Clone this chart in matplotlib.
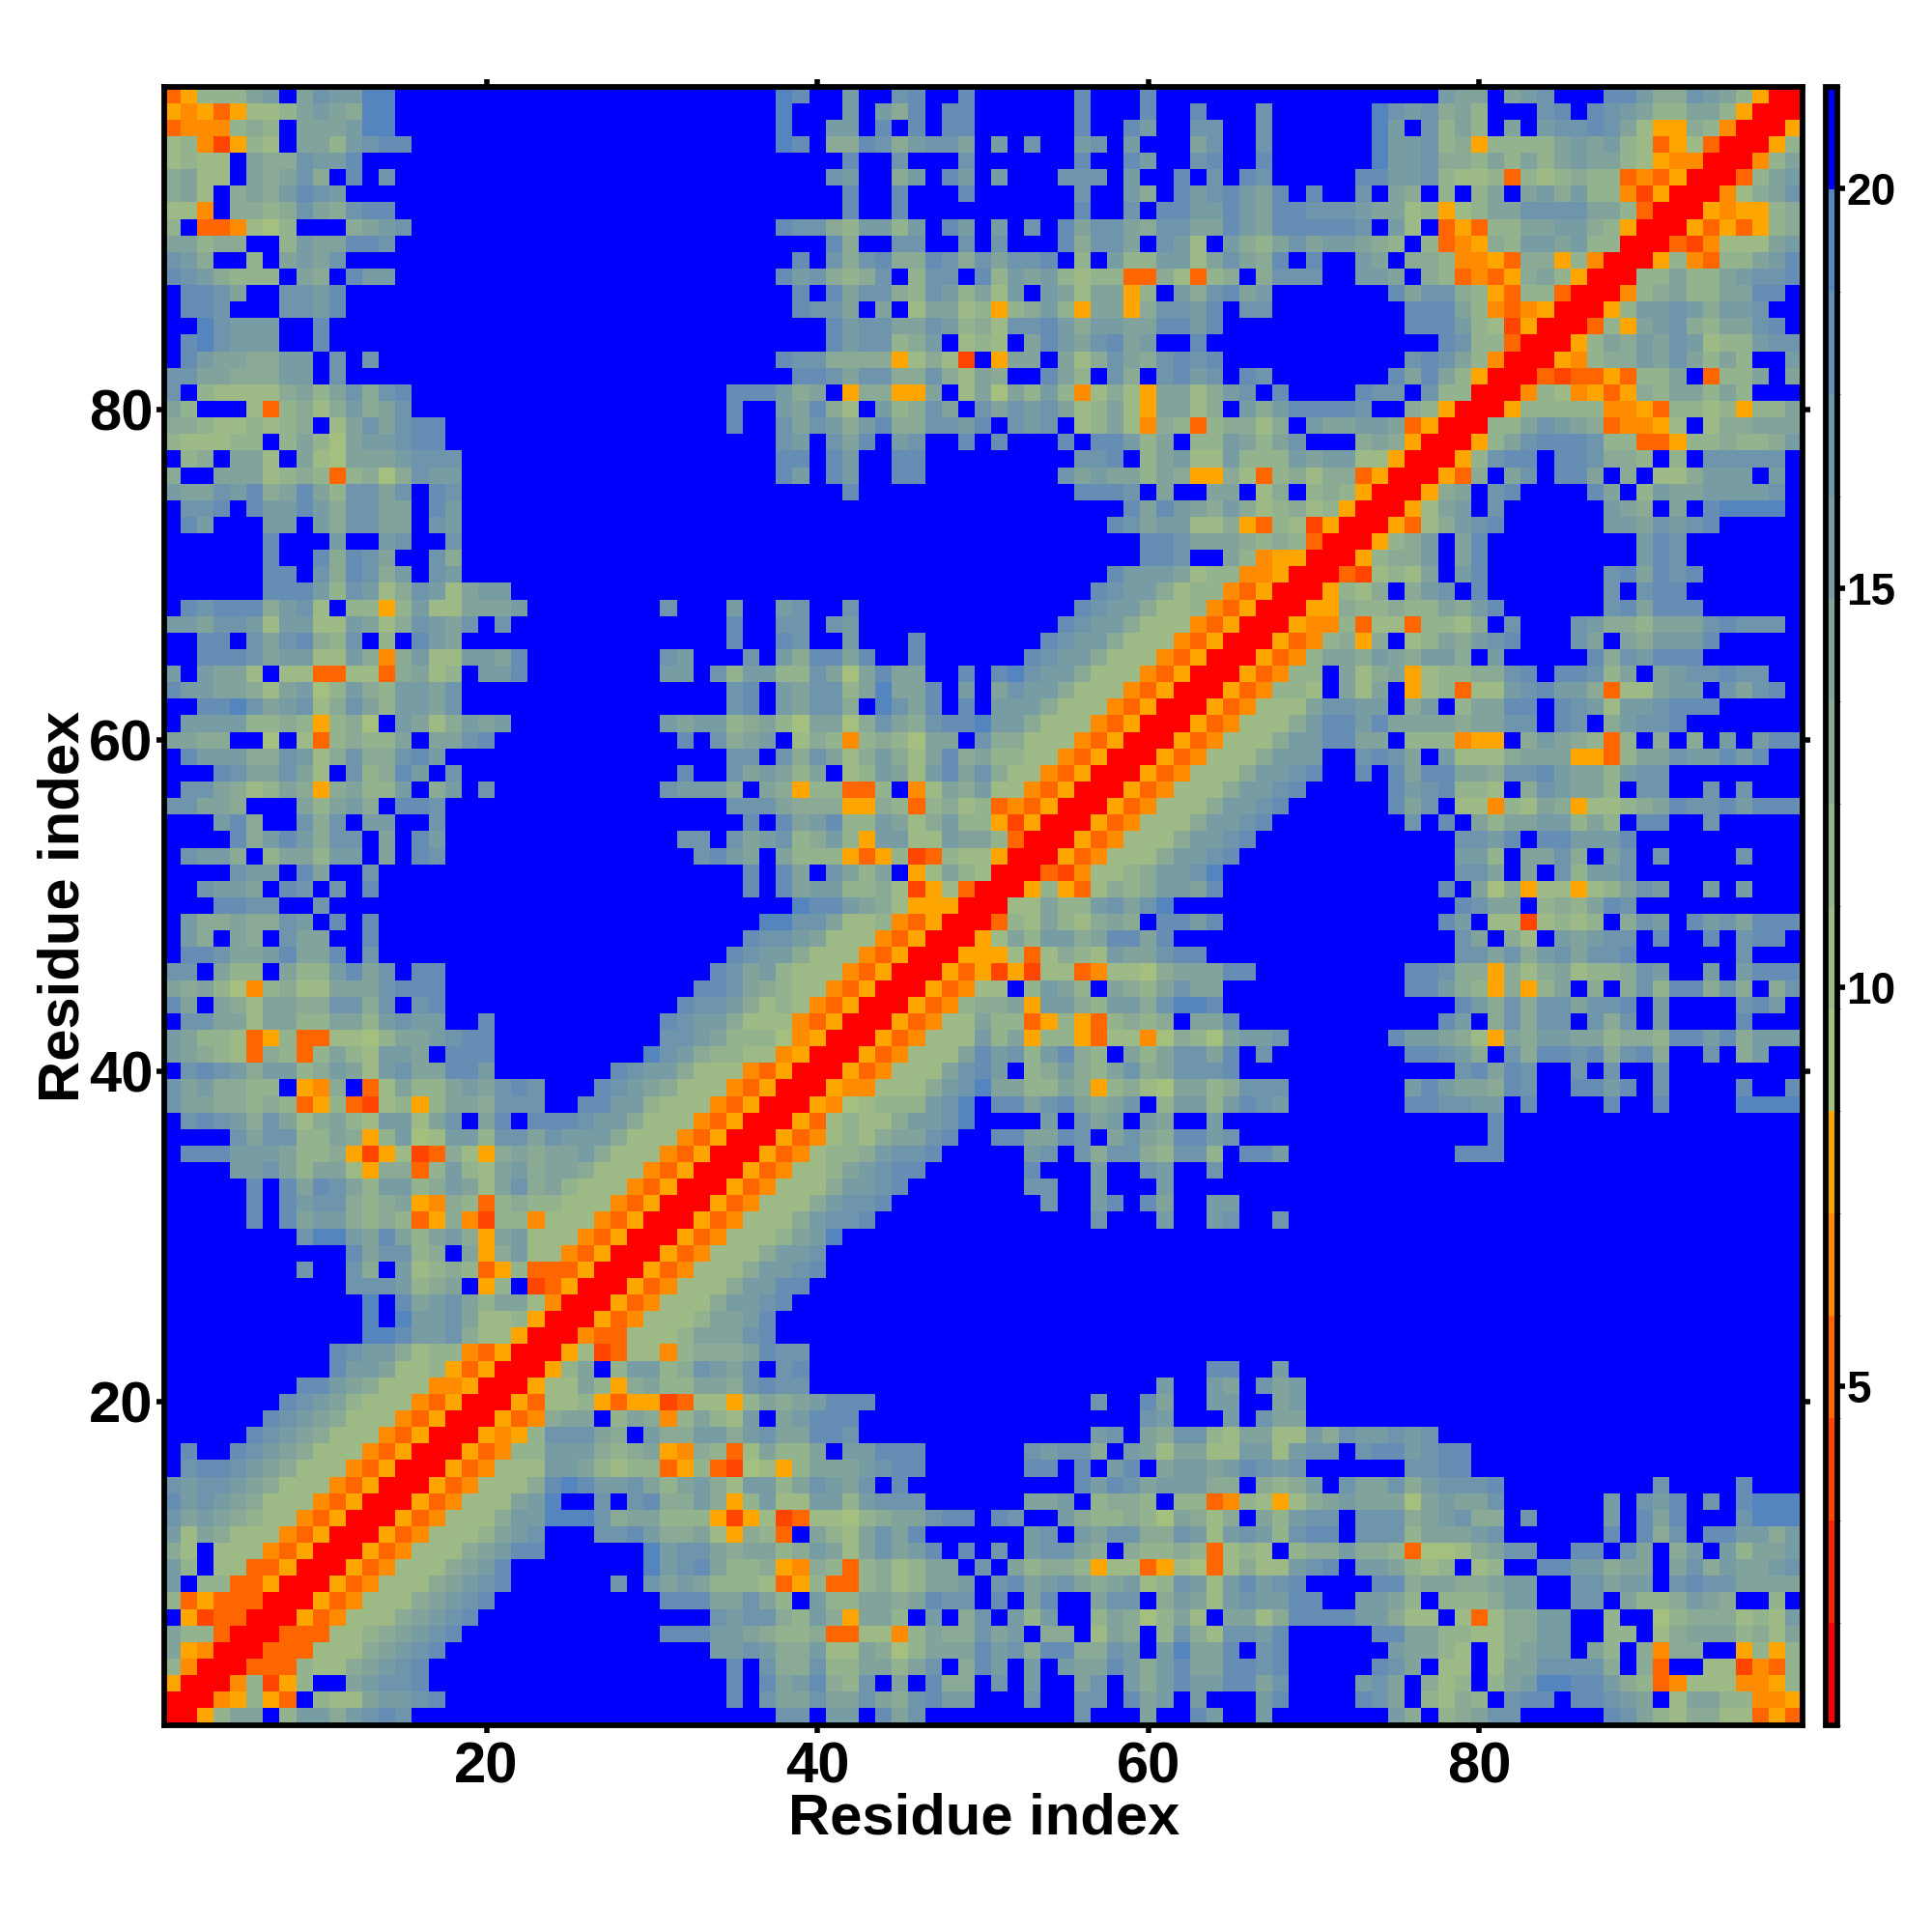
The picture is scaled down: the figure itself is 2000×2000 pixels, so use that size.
import numpy as np
import matplotlib
matplotlib.use('Agg')
import matplotlib.pyplot as plt
from matplotlib.colors import ListedColormap, BoundaryNorm

plt.rcParams['font.family'] = ['Liberation Sans', 'DejaVu Sans']
plt.rcParams['font.weight'] = 'bold'

# distance values per letter (matrix is symmetric, only i <= j is listed)
values = {'R': 1.5, 'r': 4.0, 'o': 5.2, 'a': 6.5, 'y': 7.8,
          '1': 9.1, '2': 10.4, '3': 11.7, '4': 13.0, '5': 14.2,
          '6': 15.5, '7': 16.8, '8': 18.1, '9': 19.4, '.': 20.6}

bar_ticks = [5, 10, 15, 20]
axis_ticks = [20, 40, 60, 80]
bar_colors = ['#FF0000', '#FF2200', '#FF4500', '#FF6600', '#FF8C00', '#FFA500',
              '#A5C07E', '#9CB986', '#93B28E', '#8AAA96', '#81A39C', '#789CA4',
              '#6F95AC', '#668EB4', '#5585BF', '#0000FF']
bar_edges = [0.76 + 1.2825 * i for i in range(17)]

# residues 1-25, rows i = 1..25
block_a = [
    "RRy355.36646787..........",
    "RRay3yo.32256678........",
    "RRa3ry3..56778.........",
    "RRooo32245678.........",
    "RRooo22245678........",
    "RRooo22345678.......",
    "RRyoa22245678......",
    "RRyoa22245678.....",
    "RRyoa22245678....",
    "RRyoa2224568....",
    "RRyoa22245688..",
    "RRyoa2223567..",
    "RRyoa22246699",
    "RRyoa222569.",
    "RRyoa222489",
    "RRyoa22266",
    "RRyoa3366",
    "RRyay377",
    "RRyoa45",
    "RRyo22",
    "RRy22",
    "RRy3",
    "RRy",
    "RR",
    "R",
]

# residues 26-51, rows i = 1..51
block_b = [
    "............77.66.857.....",
    ".........8.7557557547866..",
    ".........8.8568437.5.844.7",
    ".........8.74473355357.486",
    "........667644622541355586",
    ".....8886654334oo22a354475",
    "........76774364y553.6.47.",
    ".....88855753.6335545877.8",
    "..7.75653332oy3oo3423556.7",
    "....96785334ya43o342355.7.",
    "....967754553465257568.8.7",
    ".77864452y43o.5325758.....",
    "97455333yry2ro2213455788.8",
    ".7.784464y36226636777.....",
    "866753564266357657.8......",
    "53233oy3or12y35556788.....",
    "64345ya43o25335.66888.....",
    "754.6446646755887.........",
    "5.354a35326.56888.........",
    "3yoyyro22y35456888........",
    "53y45335547877............",
    "5.366347657.78............",
    "2ro22a34445877............",
    "aoo222355578..............",
    "Ryoa22235568..............",
    "RRyoa22246678.............",
    "RRyoa22246688............",
    "RRyoa22246678...........",
    "RRyoa2224667...........",
    "RRyoa2223569..........",
    "RRyoa22246778........",
    "RRyoa22246778.......",
    "RRyoa22246678......",
    "RRyoa22356788.....",
    "RRyoa23346778....",
    "RRyoa23245578..8",
    "RRyo232246679..",
    "RRya12333679.8",
    "RRyaa22246795",
    "RRyoa2225786",
    "RRyoa222586",
    "RRyoa22263",
    "RRyoa2253",
    "RRyoa344",
    "RRyoa22",
    "RRyoyr",
    "RRyyy",
    "RRy2",
    "RRo",
    "RR",
    "R",
]

# residues 52-77, rows i = 1..77
block_c = [
    "....7...5..86..6.......64.",
    ".7..77.856.6...68....875.3",
    ".6..57.6468668857....675.4",
    ".6.6558646855887" + "8.....875.",
    "74884476" + ".69558.7" + "8......6" + "55",
    "6.44.254" + ".3742776" + "8.....88" + "55",
    "636..354" + "1352.552" + "48888664" + "22",
    ".58..577" + ".4652676" + "688..665" + "3.",
    "85675456" + "23762686" + "78....88" + "45",
    "53443y22" + "oy21o242" + "2678.665" + "32",
    ".67754.4" + "3343o232" + ".3446443" + "o1",
    ".67.6577" + "44762676" + "3788.777" + "35",
    "7..64334" + "315424.5" + "3677.777" + "45",
    ".556.344" + "3.33oa32" + "y2456555" + "15",
    "....8687" + "566644.4" + "346.7557" + "46",
    ".88.8.68" + ".5665687" + "67......" + "77",
    ".76774.6" + "52552266" + "2677.788" + "67",
    ".....67." + "54773255" + "22647667" + "67",
    "........" + "76...6.7" + "55......" + "..",
    ".....7.." + "85..66.." + "56......" + "..",
    "........" + ".6..65.7" + "56......" + "..",
    "........" + "....88.." + "6......." + "..",
    "." * 26,
    "." * 26,
    "." * 26,
    "." * 26,
    "." * 26,
    "." * 26,
    "." * 26,
    "." * 26,
    ".....7..." + "6..67..7" + ".........",
    "..7..68." + "85..66.." + "..........",
    ".77..6.." + ".6......" + "..........",
    ".8...6.." + "76..7..." + "..........",
    ".67.7477" + "43773.88" + "6.........",
    "85587.57" + "548867.." + "..........",
    "..6.756." + "65..6..." + "..........",
    "85785457" + ".3663687" + "6......." + "88",
    "53354y34" + "21553477" + "7......." + "68",
    ".3464357" + "457778.." + "..........",
    "736843.5" + "357758.7" + "........" + "88",
    "5y33yo22" + "a1431566" + "7......8" + "66",
    "3oy3yo34" + "34.558.." + "..........",
    "5y664366" + "47998..." + "..........",
    ".3653.54" + "35755..." + "........" + "88",
    "yr22oa22" + "1455588." + "........" + "88",
    "2o243265" + "5788...." + "..........",
    "53664588" + "58......" + "..........",
    "32532454" + ".8868..." + "..........",
    "22533675" + "79......" + "..........",
    "Ry3yo243" + "46658..." + "..........",
    "RRora223" + "46679..." + "..........",
    "RRyoa22246678............",
    "RRyoa22246678...........",
    "RRyoa22246678" + "........7.",
    "RRyoa22246678" + "......857",
    "RRyoa22246678" + ".....867",
    "RRyoa22246678" + "..8.858",
    "RRyoa2224666..7875.",
    "RRyoa2224668855.33",
    "RRyoa222468868555",
    "RRyoa22257766.46",
    "RRyoa332.525.y2",
    "RRyoa33.5245y2",
    "RRyoa35546546",
    "RRyoa34y4.23",
    "RRyaa3o22o3",
    "RRyy433433",
    "RRy324.46",
    "RRor2325",
    "RRy3446",
    "RRy346",
    "RRyo2",
    "RRy2",
    "RRy",
    "RR",
    "R",
]

# residues 78-99, rows i = 1..99
block_d = [
    "34577.....875324422oyo",
    "243.788.88765.25533aay",
    "23.35699" + "88643oa2" + "22aay3",
    "22.25577" + "774.4o.." + "22rao3",
    "32.24566" + ".53.4a44" + "..y3y3",
    "33224466" + "..33.245" + "553425",
    ".2o24466" + "..3..134" + "442326",
    "333466.." + "77.53346" + "54..3.",
    "544566.." + "77566.78" + "775555",
    "3.23..88" + "66455.57" + "465567",
    "124577.." + "88.75.46" + ".63556",
    "5567...." + "..8.847." + "886646",
    "6744.7.." + "..6.858." + "..7999",
    "6557...." + "..6.768." + "7.8999",
    "7778...." + ".....7.." + "..8...",
    "88......" + "........" + "......",
    "88......" + "........" + "......",
    "." * 22, "." * 22, "." * 22, "." * 22, "." * 22,
    "." * 22, "." * 22, "." * 22, "." * 22, "." * 22,
    "." * 22, "." * 22, "." * 22, "." * 22, "." * 22,
    "." * 22, "." * 22,
    ".888...." + "........" + "......",
    "...8...." + "........" + "......",
    "...8...." + "........" + "......",
    "7766.8.." + "..8..8.." + "..9999",
    "655487.." + "8868.7.." + "..8..8",
    ".78587.." + "7.7..7.." + "......",
    "764.7488" + "784784.." + "7.46..",
    "542y5466" + "55344388" + "684666",
    "86.47477" + ".747.6.." + "..8...",
    ".8647477" + "5778.6.." + "..786.",
    "643y4y35" + ".4.47388" + "474.47",
    "744y4245" + "233476.." + "6.6888",
    ".7757467" + "5778...." + "..7...",
    ".75.42.6" + "5677.8.." + "8.788.",
    "86.22r23" + "23.476.8" + "675888",
    ".8755.34" + "3587...." + "......",
    "8.514y22" + "y23576.." + "6.6...",
    ".775.5.7" + "3667...." + "......",
    ".663.557" + "4.57.7.." + "..7...",
    ".7768.88" + "6668...." + "......",
    "8.535566" + "353.88.." + "7.....",
    ".22a3254" + "y2234587" + "786888",
    "8332.476" + "553.77.." + "7.7...",
    "85547786" + "553677.." + "......",
    "62224555" + "yyo35576" + "6868..",
    "3ayy.465" + "43o3.4.4" + ".6.688",
    "545577.8" + "7.46778." + "......",
    ".35588.8" + "76266788" + "8.....",
    "3o226786" + "64o22566" + ".7578.",
    "334478.8" + "8735.567" + "7877..",
    "64.6...." + ".8476888" + "......",
    "54678..." + "75.54666" + "8.....",
    "324.7..." + "76443555" + "78777.",
    "5468...." + "..785888" + "......",
    "7.8....." + "..7.788." + "......",
    ".68....." + "..785878" + "......",
    ".58....." + "....687." + "......",
    ".58....." + "....687." + "......",
    "4678...." + "..665767" + "8.....",
    "56.7...." + "..654.5." + "89999.",
    "45.78..." + ".85.3655" + "66667.",
    "yo4.57.8" + "85.4.224" + "666.6.",
    "Ry3788.8" + "87443.3." + "77777.",
    "RRy35788" + "8733ooy3" + "343346",
    "RR335765" + "4oaay2.2" + "44555",
    "RRy33333" + "aayo3323" + "y335",
    "RRa32ayoy4355353...",
    "RRorooyo335.o335.5",
    "RRya3446575353..6",
    "RRy3546576233677",
    "RRo3y567435578.",
    "RRy366764667..",
    "RRa345335588.",
    "RR3353356778",
    "RRy3ao33568",
    "RRora22256",
    "RRyoyoy34",
    "RRyayy34",
    "RRa2457",
    "RRo356",
    "RRa35",
    "RRy3",
    "RRy",
    "RR",
    "R",
]

n = 99
dist = np.full((n, n), values['.'])
for block, first in [(block_a, 1), (block_b, 26), (block_c, 52), (block_d, 78)]:
    last = {1: 25, 26: 51, 52: 77, 78: 99}[first]
    for i, row in enumerate(block, start=1):
        start = max(i, first)
        if len(row) != last - start + 1:
            raise ValueError(f'block {first} row {i}: {len(row)} != {last - start + 1}')
        for k, ch in enumerate(row):
            dist[i - 1, start - 1 + k] = values[ch]
            dist[start - 1 + k, i - 1] = values[ch]

W = 2000
def fx(p):
    return p / W
def fy(p):
    return 1 - p / W

fig = plt.figure(figsize=(20, 20), dpi=100)
ax = fig.add_axes([fx(169.5), fy(1785.5), (1865.5 - 169.5) / W, (1785.5 - 89.5) / W])
cax = fig.add_axes([fx(1889.5), fy(1785.5), 12 / W, (1785.5 - 89.5) / W])

cmap = ListedColormap(bar_colors)
norm = BoundaryNorm(bar_edges, cmap.N)
edges = np.arange(0.5, n + 1.5)
mesh = ax.pcolormesh(edges, edges, dist, cmap=cmap, norm=norm)

ax.set_xlim(0.5, 99.5)
ax.set_ylim(0.5, 99.5)
ax.set_xticks(axis_ticks)
ax.set_yticks(axis_ticks)
ax.tick_params(top=True, right=True, length=6, width=4, labelsize=43)
ax.tick_params(axis='x', pad=6)
ax.tick_params(axis='y', pad=2)
for s in ax.spines.values():
    s.set_linewidth(4.2)

cb = fig.colorbar(mesh, cax=cax, spacing='proportional', ticks=bar_ticks)
cb.outline.set_linewidth(4.2)
cb.ax.tick_params(length=6, width=4, labelsize=33, pad=1)

fig.text(fx(1019), fy(1883), 'Residue index', fontsize=43, fontweight='bold', ha='center', va='center')
fig.text(fx(66), fy(938), 'Residue index', fontsize=43, fontweight='bold', ha='center', va='center', rotation=90)

plt.savefig('out.png', dpi=100)
